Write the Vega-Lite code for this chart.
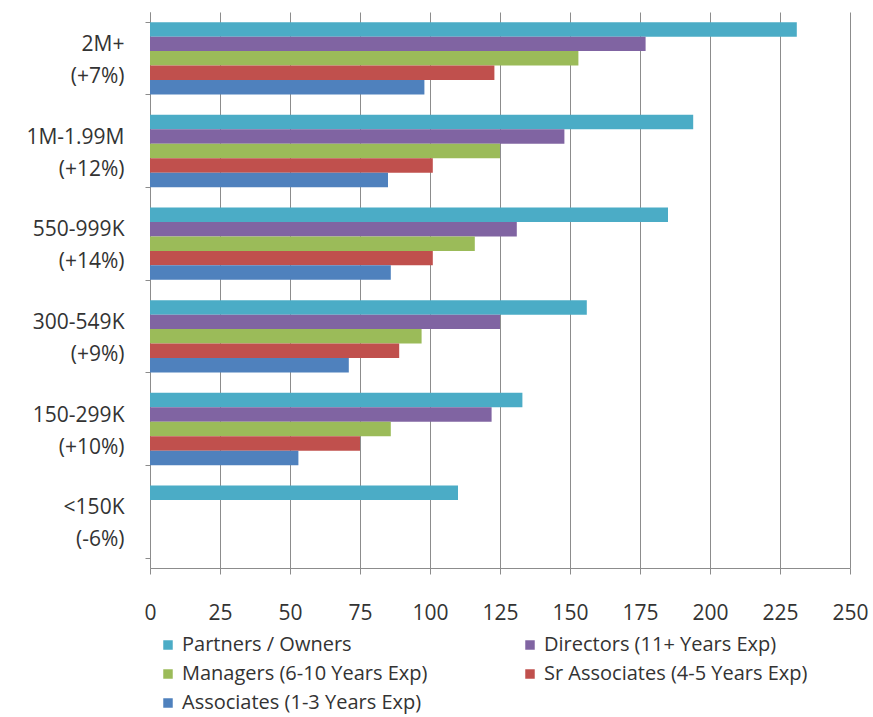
{
  "$schema": "https://vega.github.io/schema/vega-lite/v6.json",
  "width": 700,
  "height": 556,
  "autosize": {"type": "none"},
  "padding": {"left": 150, "top": 12, "right": 23, "bottom": 149},
  "background": "white",
  "config": {"view": {"stroke": null}, "font": "Open Sans"},
  "data": {"values": [
    {"bracket": "2M+ (+7%)", "role": "Partners / Owners", "value": 231},
    {"bracket": "2M+ (+7%)", "role": "Directors (11+ Years Exp)", "value": 177},
    {"bracket": "2M+ (+7%)", "role": "Managers (6-10 Years Exp)", "value": 153},
    {"bracket": "2M+ (+7%)", "role": "Sr Associates (4-5 Years Exp)", "value": 123},
    {"bracket": "2M+ (+7%)", "role": "Associates (1-3 Years Exp)", "value": 98},
    {"bracket": "1M-1.99M (+12%)", "role": "Partners / Owners", "value": 194},
    {"bracket": "1M-1.99M (+12%)", "role": "Directors (11+ Years Exp)", "value": 148},
    {"bracket": "1M-1.99M (+12%)", "role": "Managers (6-10 Years Exp)", "value": 125},
    {"bracket": "1M-1.99M (+12%)", "role": "Sr Associates (4-5 Years Exp)", "value": 101},
    {"bracket": "1M-1.99M (+12%)", "role": "Associates (1-3 Years Exp)", "value": 85},
    {"bracket": "550-999K (+14%)", "role": "Partners / Owners", "value": 185},
    {"bracket": "550-999K (+14%)", "role": "Directors (11+ Years Exp)", "value": 131},
    {"bracket": "550-999K (+14%)", "role": "Managers (6-10 Years Exp)", "value": 116},
    {"bracket": "550-999K (+14%)", "role": "Sr Associates (4-5 Years Exp)", "value": 101},
    {"bracket": "550-999K (+14%)", "role": "Associates (1-3 Years Exp)", "value": 86},
    {"bracket": "300-549K (+9%)", "role": "Partners / Owners", "value": 156},
    {"bracket": "300-549K (+9%)", "role": "Directors (11+ Years Exp)", "value": 125},
    {"bracket": "300-549K (+9%)", "role": "Managers (6-10 Years Exp)", "value": 97},
    {"bracket": "300-549K (+9%)", "role": "Sr Associates (4-5 Years Exp)", "value": 89},
    {"bracket": "300-549K (+9%)", "role": "Associates (1-3 Years Exp)", "value": 71},
    {"bracket": "150-299K (+10%)", "role": "Partners / Owners", "value": 133},
    {"bracket": "150-299K (+10%)", "role": "Directors (11+ Years Exp)", "value": 122},
    {"bracket": "150-299K (+10%)", "role": "Managers (6-10 Years Exp)", "value": 86},
    {"bracket": "150-299K (+10%)", "role": "Sr Associates (4-5 Years Exp)", "value": 75},
    {"bracket": "150-299K (+10%)", "role": "Associates (1-3 Years Exp)", "value": 53},
    {"bracket": "<150K (-6%)", "role": "Partners / Owners", "value": 110}
  ]},
  "mark": {"type": "bar"},
  "encoding": {
    "y": {
      "field": "bracket", "type": "nominal",
      "scale": {"domain": ["2M+ (+7%)", "1M-1.99M (+12%)", "550-999K (+14%)", "300-549K (+9%)", "150-299K (+10%)", "<150K (-6%)"], "paddingInner": 0.22, "paddingOuter": 0.11},
      "axis": {
        "title": null,
        "labelExpr": "[slice(datum.label, 0, indexof(datum.label, ' (')), slice(datum.label, indexof(datum.label, ' (') + 1)]",
        "labelFontSize": 21,
        "labelLineHeight": 32,
        "labelColor": "#333333",
        "labelAlign": "right",
        "labelBaseline": "middle",
        "labelOffset": -14,
        "labelPadding": 21,
        "tickBand": "extent",
        "tickSize": 5,
        "tickColor": "#8c8c8c",
        "domainColor": "#8c8c8c",
        "grid": false
      }
    },
    "yOffset": {
      "field": "role", "type": "nominal",
      "scale": {"domain": ["Partners / Owners", "Directors (11+ Years Exp)", "Managers (6-10 Years Exp)", "Sr Associates (4-5 Years Exp)", "Associates (1-3 Years Exp)"], "paddingInner": 0, "paddingOuter": 0}
    },
    "x": {
      "field": "value", "type": "quantitative",
      "scale": {"domain": [0, 250], "nice": false},
      "axis": {
        "title": null,
        "values": [0, 25, 50, 75, 100, 125, 150, 175, 200, 225, 250],
        "grid": true,
        "gridColor": "#8c8c8c",
        "tickColor": "#8c8c8c",
        "domainColor": "#8c8c8c",
        "tickSize": 6,
        "labelFontSize": 21,
        "labelFlush": false,
        "labelColor": "#333333",
        "labelPadding": 28
      }
    },
    "color": {
      "field": "role", "type": "nominal",
      "scale": {
        "domain": ["Partners / Owners", "Directors (11+ Years Exp)", "Managers (6-10 Years Exp)", "Sr Associates (4-5 Years Exp)", "Associates (1-3 Years Exp)"],
        "range": ["#4BACC6", "#8064A2", "#9BBB59", "#C0504D", "#4F81BD"]
      },
      "legend": {
        "orient": "none",
        "legendX": 8,
        "legendY": 623,
        "columns": 2,
        "direction": "horizontal",
        "title": null,
        "symbolType": "square",
        "symbolSize": 90,
        "symbolStrokeWidth": 0,
        "labelFontSize": 20,
        "labelColor": "#333333",
        "labelOffset": 4,
        "columnPadding": 92,
        "rowPadding": 9,
        "labelLimit": 400
      }
    }
  }
}
